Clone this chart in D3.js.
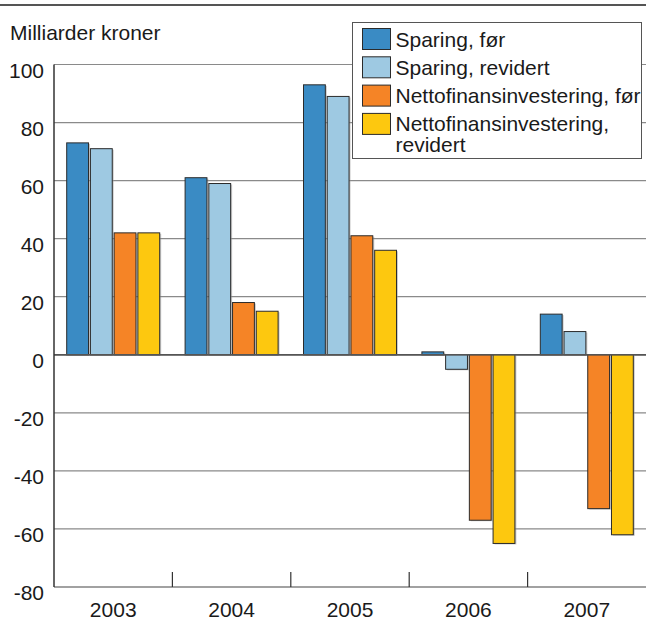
<!DOCTYPE html>
<html>
<head>
<meta charset="utf-8">
<script src="https://cdn.jsdelivr.net/npm/d3@7"></script>
<style>
  body { margin: 0; background: #fff; }
  svg { display: block; font-family: "Liberation Sans", Arial, sans-serif; }
</style>
</head>
<body>
<div id="chart"></div>
<script>
// Data
const years = ["2003", "2004", "2005", "2006", "2007"];
const seriesNames = [
  "Sparing, før",
  "Sparing, revidert",
  "Nettofinansinvestering, før",
  "Nettofinansinvestering, revidert",
];
const sparingFor = [73, 61, 93, 1, 14];
const sparingRevidert = [71, 59, 89, -5, 8];
const nettoFor = [42, 18, 41, -57, -53];
const nettoRevidert = [42, 15, 36, -65, -62];
const yTicks = [100, 80, 60, 40, 20, 0, -20, -40, -60, -80];

const colors = ["#3a8bc4", "#9ec9e2", "#f58426", "#fdc80f"];
const allSeries = [sparingFor, sparingRevidert, nettoFor, nettoRevidert];

const width = 646, height = 621;
const margin = { top: 64.5, right: 0, bottom: 34, left: 54 };
const fontSize = 21;

const svg = d3.select("#chart").append("svg")
  .attr("width", width)
  .attr("height", height);

// top rule
svg.append("line")
  .attr("x1", 0).attr("x2", width)
  .attr("y1", 5).attr("y2", 5)
  .attr("stroke", "#555").attr("stroke-width", 2);

const y = d3.scaleLinear()
  .domain([-80, 100])
  .range([height - margin.bottom, margin.top]);

const x0 = d3.scaleBand()
  .domain(years)
  .range([margin.left, width - margin.right]);

const groupW = 93;
const x1 = d3.scaleBand()
  .domain(d3.range(seriesNames.length))
  .range([0, groupW])
  .paddingInner(0.08);

// gridlines
svg.append("g")
  .selectAll("line")
  .data(yTicks)
  .join("line")
  .attr("x1", margin.left).attr("x2", width)
  .attr("y1", d => y(d)).attr("y2", d => y(d))
  .attr("stroke", d => d === 0 || d === -80 ? "#444" : "#8a8a8a")
  .attr("stroke-width", d => d === 0 ? 1.6 : 1.2);

// y labels
svg.append("g")
  .selectAll("text")
  .data(yTicks)
  .join("text")
  .attr("x", 44)
  .attr("y", d => y(d) + 13)
  .attr("text-anchor", "end")
  .attr("font-size", fontSize)
  .attr("fill", "#1a1a1a")
  .text(d => d);

svg.append("text")
  .attr("x", 10).attr("y", 40)
  .attr("font-size", fontSize)
  .attr("fill", "#1a1a1a")
  .text("Milliarder kroner");

// bars
const bars = [];
years.forEach((yr, i) => {
  allSeries.forEach((s, j) => {
    bars.push({ year: yr, idx: j, value: s[i] });
  });
});

const barX = d => x0(d.year) + (x0.bandwidth() - groupW) / 2 + x1(d.idx);

// soft shadow
svg.append("g")
  .selectAll("rect")
  .data(bars)
  .join("rect")
  .attr("x", d => barX(d) + 1.5)
  .attr("y", d => Math.min(y(d.value), y(0)) + 1)
  .attr("width", x1.bandwidth())
  .attr("height", d => Math.abs(y(d.value) - y(0)))
  .attr("fill", "#999")
  .attr("opacity", 0.5);

svg.append("g")
  .selectAll("rect")
  .data(bars)
  .join("rect")
  .attr("x", barX)
  .attr("y", d => Math.min(y(d.value), y(0)))
  .attr("width", x1.bandwidth())
  .attr("height", d => Math.abs(y(d.value) - y(0)))
  .attr("fill", d => colors[d.idx])
  .attr("stroke", "#2b2b2b")
  .attr("stroke-width", 1);

// zero line on top of bars
svg.append("line")
  .attr("x1", margin.left).attr("x2", width)
  .attr("y1", y(0)).attr("y2", y(0))
  .attr("stroke", "#555").attr("stroke-width", 1.4);

// left axis line
svg.append("line")
  .attr("x1", margin.left).attr("x2", margin.left)
  .attr("y1", y(100)).attr("y2", y(-80))
  .attr("stroke", "#333").attr("stroke-width", 1.5);

// x axis: category separators and labels
const xAxis = d3.axisBottom(x0).tickSize(0).tickPadding(10);
const gx = svg.append("g")
  .attr("transform", `translate(0,${y(-80)})`)
  .call(xAxis);
gx.select(".domain").remove();
gx.selectAll("text")
  .attr("font-size", fontSize)
  .attr("font-family", "Liberation Sans, Arial, sans-serif")
  .attr("fill", "#1a1a1a")
  .attr("dy", "0.95em");

svg.append("g")
  .selectAll("line")
  .data(years.slice(1))
  .join("line")
  .attr("x1", d => x0(d)).attr("x2", d => x0(d))
  .attr("y1", y(-80) - 15).attr("y2", y(-80))
  .attr("stroke", "#333").attr("stroke-width", 1.2);

// legend
const legend = svg.append("g");
legend.append("rect")
  .attr("x", 352.5).attr("y", 22.5)
  .attr("width", 289).attr("height", 136)
  .attr("fill", "#fff")
  .attr("stroke", "#555").attr("stroke-width", 1);

const legendRows = [
  ["Sparing, før"],
  ["Sparing, revidert"],
  ["Nettofinansinvestering, før"],
  ["Nettofinansinvestering,", "revidert"],
];

const item = legend.selectAll("g.item")
  .data(seriesNames)
  .join("g")
  .attr("class", "item")
  .attr("transform", (d, i) => `translate(362.5,${28.5 + i * 28.3})`);

item.append("rect")
  .attr("width", 28).attr("height", 21)
  .attr("fill", (d, i) => colors[i])
  .attr("stroke", "#2b2b2b").attr("stroke-width", 1);

item.append("text")
  .attr("x", 33).attr("y", 18)
  .attr("font-size", fontSize)
  .attr("fill", "#1a1a1a")
  .selectAll("tspan")
  .data((d, i) => legendRows[i])
  .join("tspan")
  .attr("x", 33)
  .attr("dy", (d, k) => k === 0 ? 0 : 21)
  .text(d => d);
</script>
</body>
</html>
